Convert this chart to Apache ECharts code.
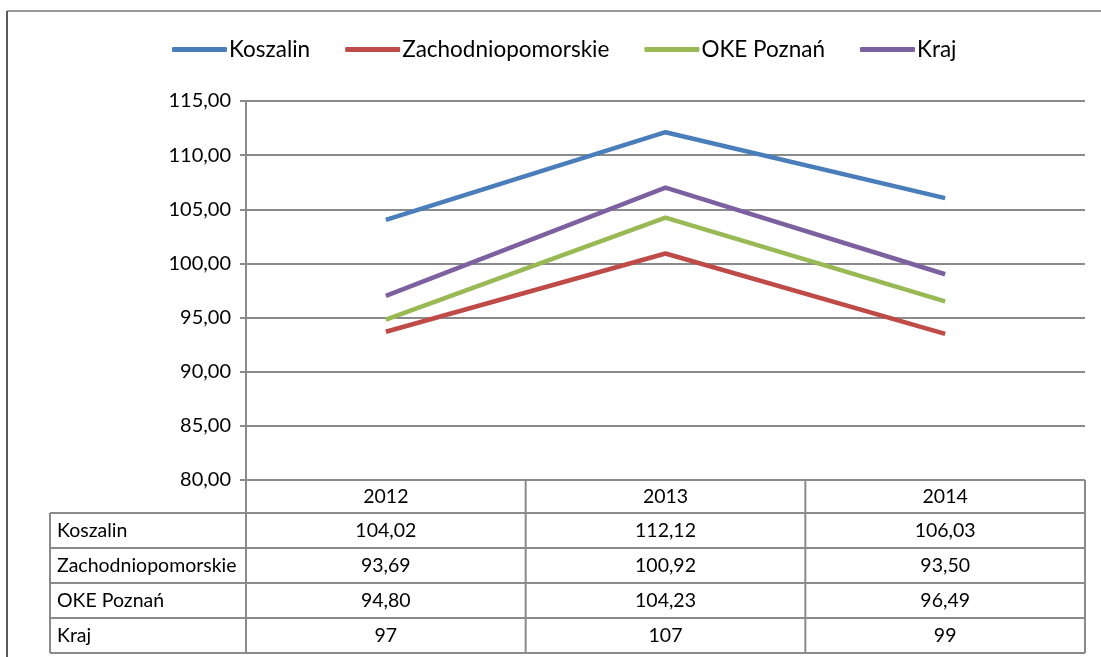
<!DOCTYPE html>
<html>
<head>
<meta charset="utf-8">
<script src="https://cdn.jsdelivr.net/npm/echarts@6/dist/echarts.min.js"></script>
<style>
  html, body { margin: 0; padding: 0; background: #fff; }
  #chart { width: 1101px; height: 657px; }
</style>
</head>
<body>
<div id="chart"></div>
<script>
// lata na osi X / w nagłówku tabeli
const years = ['2012', '2013', '2014'];
const seriesNames = ['Koszalin', 'Zachodniopomorskie', 'OKE Poznań', 'Kraj'];
const koszalin = [104.02, 112.12, 106.03];
const zachodniopomorskie = [93.69, 100.92, 93.50];
const okePoznan = [94.80, 104.23, 96.49];
const kraj = [97, 107, 99];
const yTicks = [80, 85, 90, 95, 100, 105, 110, 115];

const colors = ['#4a7ebb', '#be4b48', '#98b954', '#7d60a0'];
const allValues = [koszalin, zachodniopomorskie, okePoznan, kraj];

const FONT = 'Lato';
const gridLeft = 246, gridRight = 1085, gridTop = 101, gridBottom = 480;
const rowLines = [480, 513, 548, 583, 618, 653];
const tableLeft = 50;
const lineColor = '#8a8a8a';
const tableFont = '19.5px ' + FONT;

const fmt = (v) => Number.isInteger(v) ? String(v) : v.toFixed(2).replace('.', ',');

// tabela danych pod wykresem (jak w Excelu)
const buildTable = () => {
  const g = [];
  const colW = (gridRight - gridLeft) / years.length;
  // linie poziome
  rowLines.forEach((y, i) => {
    g.push({
      type: 'line',
      shape: { x1: i < 1 ? gridLeft : tableLeft, y1: y, x2: gridRight, y2: y },
      style: { stroke: lineColor, lineWidth: 2 },
      silent: true
    });
  });
  // linie pionowe
  g.push({ type: 'line', shape: { x1: tableLeft, y1: rowLines[1], x2: tableLeft, y2: rowLines[5] },
    style: { stroke: lineColor, lineWidth: 2 }, silent: true });
  for (let c = 0; c <= years.length; c++) {
    const x = gridLeft + c * colW;
    g.push({ type: 'line', shape: { x1: x, y1: c === 0 ? gridTop : rowLines[0], x2: x, y2: rowLines[5] },
      style: { stroke: lineColor, lineWidth: 2 }, silent: true });
  }
  // nagłówki lat
  years.forEach((yr, c) => {
    g.push({ type: 'text', x: gridLeft + (c + 0.5) * colW, y: (rowLines[0] + rowLines[1]) / 2,
      style: { text: yr, font: tableFont, fill: '#000', align: 'center', verticalAlign: 'middle' } });
  });
  // wiersze serii
  seriesNames.forEach((name, r) => {
    const yMid = (rowLines[r + 1] + rowLines[r + 2]) / 2;
    g.push({ type: 'text', x: tableLeft + 7, y: yMid,
      style: { text: name, font: tableFont, fill: '#000', align: 'left', verticalAlign: 'middle' } });
    allValues[r].forEach((v, c) => {
      g.push({ type: 'text', x: gridLeft + (c + 0.5) * colW, y: yMid,
        style: { text: fmt(v), font: tableFont, fill: '#000', align: 'center', verticalAlign: 'middle' } });
    });
  });
  // ramka obszaru wykresu
  g.push({ type: 'line', shape: { x1: 7, y1: 11, x2: 1101, y2: 11 },
    style: { stroke: '#9a9a9a', lineWidth: 2 }, silent: true });
  g.push({ type: 'line', shape: { x1: 7, y1: 11, x2: 7, y2: 657 },
    style: { stroke: '#5a5a5a', lineWidth: 2 }, silent: true });
  return g;
};

const chart = echarts.init(document.getElementById('chart'));
chart.setOption({
  animation: false,
  color: colors,
  textStyle: { fontFamily: FONT },
  legend: {
    left: 172,
    top: 38,
    padding: 0,
    itemWidth: 55,
    itemHeight: 5,
    itemGap: 35,
    icon: 'roundRect',
    textStyle: { fontSize: 22.5, color: '#000', fontFamily: FONT, padding: [0, 0, 0, -3] },
    data: seriesNames
  },
  grid: { left: gridLeft, right: 1101 - gridRight, top: gridTop, bottom: 657 - gridBottom },
  xAxis: {
    type: 'category',
    data: years,
    boundaryGap: true,
    axisLine: { show: false },
    axisTick: { show: false },
    axisLabel: { show: false }
  },
  yAxis: {
    type: 'value',
    min: yTicks[0],
    max: yTicks[yTicks.length - 1],
    interval: 5,
    axisLine: { show: true, lineStyle: { color: lineColor, width: 2 } },
    axisTick: { show: true, length: 6, lineStyle: { color: lineColor, width: 2 } },
    axisLabel: {
      fontSize: 20, color: '#000', fontFamily: FONT, margin: 15,
      formatter: (v) => v.toFixed(2).replace('.', ',')
    },
    splitLine: { show: true, lineStyle: { color: lineColor, width: 2 } }
  },
  series: seriesNames.map((name, i) => ({
    name,
    type: 'line',
    data: allValues[i],
    symbol: 'none',
    lineStyle: { width: 4.5, color: colors[i] }
  })),
  graphic: buildTable()
});
</script>
</body>
</html>
